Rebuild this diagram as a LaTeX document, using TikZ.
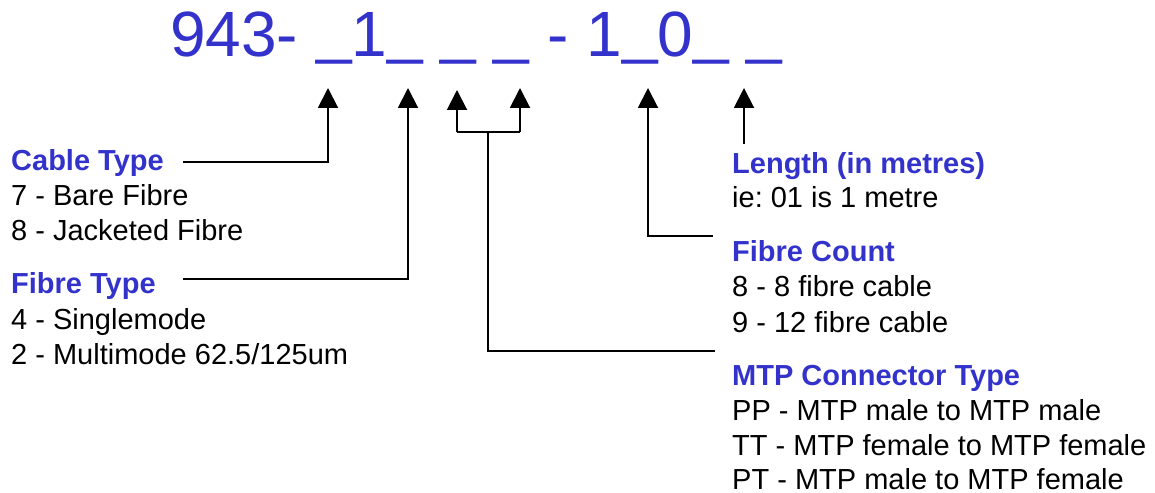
\documentclass[tikz,border=0pt]{standalone}
\usepackage{fontspec}
\setmainfont{Liberation Sans}
\usetikzlibrary{arrows.meta}
\definecolor{codeblue}{RGB}{51,51,204}
\newcommand\codeus{\raisebox{5.5pt}{\_}}
\begin{document}
\frenchspacing
\begin{tikzpicture}[x=1pt,y=-1pt,
  title/.style={anchor=base west,inner sep=0pt,text=codeblue,font=\fontsize{64}{70}\selectfont},
  head/.style={anchor=base west,inner sep=0pt,text=codeblue,font=\fontsize{29}{35}\selectfont\bfseries},
  item/.style={anchor=base west,inner sep=0pt,font=\fontsize{29}{35}\selectfont},
  conn/.style={line width=2pt,black},
  pointer/.style={conn,-{Triangle[width=20pt,length=20pt]}}]
\useasboundingbox (0,0) rectangle (1155,492);
% title code
\node[title] (code) at (170,57) {943- \codeus1\codeus{} \codeus{} \codeus{} - 1\codeus0\codeus{} \codeus};
% left labels
\node[head] (cable) at (11,170) {Cable Type};
\node[item] (c7) at (11,205) {7 - Bare Fibre};
\node[item] (c8) at (11,240) {8 - Jacketed Fibre};
\node[head] (fibre) at (11,293) {Fibre Type};
\node[item] (f4) at (11,329) {4 - Singlemode};
\node[item] (f2) at (11,364) {2 - Multimode 62.5/125um};
% right labels
\node[head] (len) at (732,173) {Length (in metres)};
\node[item] (len1) at (732,207) {ie: 01 is 1 metre};
\node[head] (count) at (732,261) {Fibre Count};
\node[item] (cnt8) at (732,296) {8 - 8 fibre cable};
\node[item] (cnt9) at (732,332) {9 - 12 fibre cable};
\node[head] (mtp) at (732,385) {MTP Connector Type};
\node[item] (pp) at (732,420) {PP - MTP male to MTP male};
\node[item] (tt) at (732,455) {TT - MTP female to MTP female};
\node[item] (pt) at (732,489) {PT - MTP male to MTP female};
% arrow tips
\coordinate (t1) at (328,88);
\coordinate (t2) at (408,88);
\coordinate (t3) at (457,90);
\coordinate (t4) at (520,88);
\coordinate (t5) at (648,88);
\coordinate (t6) at (744,88);
% connector ends
\coordinate (cl) at (183,162);
\coordinate (fl) at (183,279);
\coordinate (b3) at (457,132);
\coordinate (b4) at (520,132);
\coordinate (bm) at (488,132);
\coordinate (ml) at (715,351);
\coordinate (cnl) at (713,236);
\coordinate (lnl) at (744,144);
% connectors
\draw[pointer] (cl) -| (t1);
\draw[pointer] (fl) -| (t2);
\draw[conn] (b3) -- (b4);
\draw[pointer] (b3) -- (t3);
\draw[pointer] (b4) -- (t4);
\draw[conn] (bm) |- (ml);
\draw[pointer] (cnl) -| (t5);
\draw[pointer] (lnl) -- (t6);
\end{tikzpicture}
\end{document}
